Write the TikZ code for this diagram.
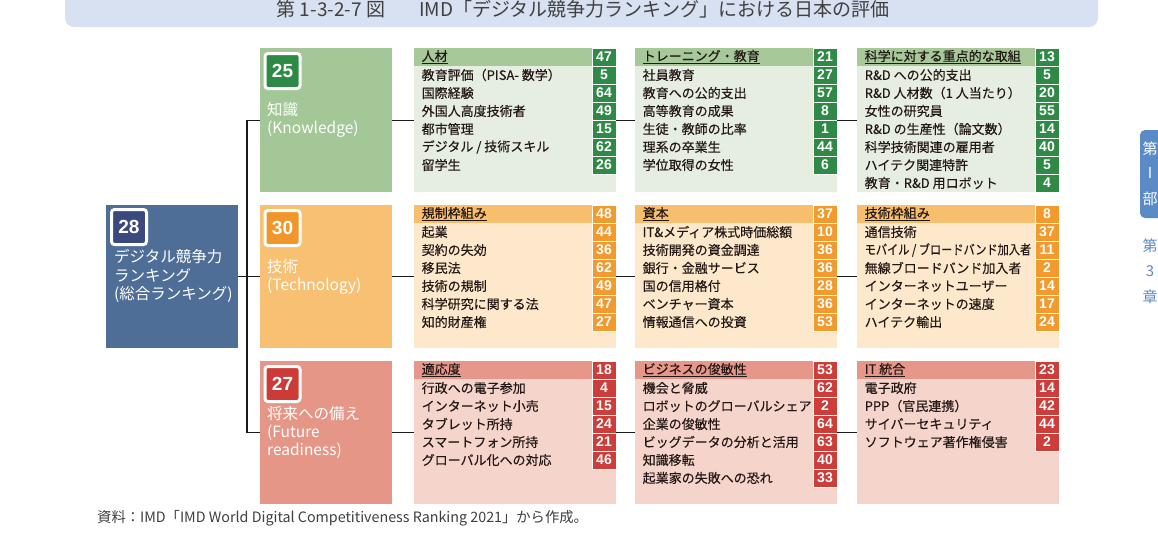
\documentclass[tikz,border=0pt]{standalone}
\usepackage{fontspec}
\usepackage{graphicx}
\setmainfont{Noto Sans CJK JP}
\newfontfamily\itemfont{Noto Sans CJK JP}[FakeBold=0.35]
\newfontfamily\numfont{Liberation Sans}
\definecolor{gcat}{HTML}{A3C796}
\definecolor{gbadge}{HTML}{2C8A45}
\definecolor{ghd}{HTML}{A7C99A}
\definecolor{gbg}{HTML}{E6EDE1}
\definecolor{gnum}{HTML}{2F8A48}
\definecolor{ocat}{HTML}{F8C072}
\definecolor{obadge}{HTML}{F0962A}
\definecolor{ohd}{HTML}{F7BE6E}
\definecolor{obg}{HTML}{FDE8CC}
\definecolor{onum}{HTML}{F29A2E}
\definecolor{rcat}{HTML}{E59686}
\definecolor{rbadge}{HTML}{CC3B38}
\definecolor{rhd}{HTML}{E6978A}
\definecolor{rbg}{HTML}{F5D4CB}
\definecolor{rnum}{HTML}{CD3D39}
\definecolor{mcat}{HTML}{4F6E97}
\definecolor{mbadge}{HTML}{3A4A7C}
\definecolor{titlebg}{HTML}{D8E1F1}
\definecolor{tabc}{HTML}{5B8BC6}
\definecolor{txtc}{HTML}{231815}
\definecolor{linec}{HTML}{1A1A1A}
\tikzset{
 itemtxt/.style={anchor=west, inner sep=0pt, text=txtc, font=\itemfont\fontsize{13}{13}\selectfont},
 numbox/.style={minimum width=24pt, minimum height=18pt, inner sep=0pt, draw=white, line width=1pt, text=white, font=\numfont\bfseries\fontsize{14}{14}\selectfont},
 panelbox/.style={anchor=north west, minimum width=202pt, minimum height=144pt, inner sep=0pt},
 catbox/.style={anchor=north west, minimum width=132pt, minimum height=144pt, inner sep=0pt},
 badge/.style={minimum size=35pt, inner sep=0pt, draw=white, line width=3pt, rounded corners=3pt, text=white, font=\numfont\bfseries\fontsize{19}{19}\selectfont},
 cattxt/.style={anchor=west, inner sep=0pt, text=white, font=\fontsize{15.5}{15.5}\selectfont},
 conn/.style={draw=linec, line width=1.2pt},
 tabtxt/.style={inner sep=0pt, font=\fontsize{15}{15}\selectfont},
}
\newcommand\setpanel[4]{\def\px{#1}\def\py{#2}\def\pnum{#3}\def\pid{#4}}
\newcommand\panelhead[1]{\fill[#1] (\px,\py) rectangle ({\px+178},{\py+18});}
\newcommand\prow[3]{%
 \node[itemtxt] (\pid t#1) at ({\px+7.5},{\py+9+18*#1}) {#2};
 \node[numbox, fill=\pnum] (\pid n#1) at ({\px+190},{\py+9+18*#1}) {#3};}
\begin{document}
\begin{tikzpicture}[x=1pt,y=-1pt]
\useasboundingbox (0,0) rectangle (1158,550);
\clip (0,0) rectangle (1158,550);
\fill[white] (0,0) rectangle (1158,550);
% title
\fill[titlebg, rounded corners=9pt] (65,-20) rectangle (1098,27);
\node[text=black!75, font=\fontsize{19}{19}\selectfont, inner sep=0pt] (title) at (583,9) {第 1-3-2-7 図\hspace{34pt}IMD「デジタル競争力ランキング」における日本の評価};
% right tab
\fill[tabc, rounded corners=5pt] (1140,130) rectangle (1175,218);
\node[tabtxt, text=white] (tab1) at (1150,149) {第};
\node[tabtxt, text=white] (tab2) at (1150,173) {I};
\node[tabtxt, text=white] (tab3) at (1150,199) {部};
\node[tabtxt, text=tabc] (tab4) at (1150,246) {第};
\node[tabtxt, text=tabc] (tab5) at (1150,271) {3};
\node[tabtxt, text=tabc] (tab6) at (1150,297) {章};
% main box
\node[catbox, minimum height=143pt, fill=mcat] (M) at (106,205) {};
\node[badge, fill=mbadge] (Mb) at (129,227) {28};
\node[cattxt] (Mt1) at (114,257) {デジタル競争力};
\node[cattxt] (Mt2) at (114,276) {ランキング};
\node[cattxt] (Mt3) at (114,294) {(総合ランキング)};
% category boxes
\node[catbox, fill=gcat] (K) at (260,48) {};
\node[badge, fill=gbadge] (Kb) at (282.5,71) {25};
\node[cattxt] (Kt1) at (267,110) {知識};
\node[cattxt] (Kt2) at (267,129) {(Knowledge)};
\node[catbox, minimum height=143pt, fill=ocat] (T) at (260,205) {};
\node[badge, fill=obadge] (Tb) at (282.5,228) {30};
\node[cattxt] (Tt1) at (267,267) {技術};
\node[cattxt] (Tt2) at (267,286) {(Technology)};
\node[catbox, minimum height=143pt, fill=rcat] (F) at (260,361) {};
\node[badge, fill=rbadge] (Fb) at (282.5,384) {27};
\node[cattxt] (Ft1) at (267,414) {将来への備え};
\node[cattxt] (Ft2) at (267,433) {(Future};
\node[cattxt] (Ft3) at (267,451) {readiness)};
% ---------- row 1 : knowledge
\node[panelbox, fill=gbg] (P11) at (414,48) {};
\node[panelbox, fill=gbg] (P12) at (635,48) {};
\node[panelbox, fill=gbg] (P13) at (857,48) {};
\setpanel{414}{48}{gnum}{A}\panelhead{ghd}
\prow{0}{\underline{人材}}{47}
\prow{1}{教育評価（PISA- 数学）}{5}
\prow{2}{国際経験}{64}
\prow{3}{外国人高度技術者}{49}
\prow{4}{都市管理}{15}
\prow{5}{デジタル / 技術スキル}{62}
\prow{6}{留学生}{26}
\setpanel{635}{48}{gnum}{B}\panelhead{ghd}
\prow{0}{\underline{トレーニング・教育}}{21}
\prow{1}{社員教育}{27}
\prow{2}{教育への公的支出}{57}
\prow{3}{高等教育の成果}{8}
\prow{4}{生徒・教師の比率}{1}
\prow{5}{理系の卒業生}{44}
\prow{6}{学位取得の女性}{6}
\setpanel{857}{48}{gnum}{C}\panelhead{ghd}
\prow{0}{\underline{科学に対する重点的な取組}}{13}
\prow{1}{R\&D への公的支出}{5}
\prow{2}{R\&D 人材数（1 人当たり）}{20}
\prow{3}{女性の研究員}{55}
\prow{4}{R\&D の生産性（論文数）}{14}
\prow{5}{科学技術関連の雇用者}{40}
\prow{6}{ハイテク関連特許}{5}
\prow{7}{教育・R\&D 用ロボット}{4}
% ---------- row 2 : technology
\node[panelbox, minimum height=143pt, fill=obg] (P21) at (414,205) {};
\node[panelbox, minimum height=143pt, fill=obg] (P22) at (635,205) {};
\node[panelbox, minimum height=143pt, fill=obg] (P23) at (857,205) {};
\setpanel{414}{205}{onum}{D}\panelhead{ohd}
\prow{0}{\underline{規制枠組み}}{48}
\prow{1}{起業}{44}
\prow{2}{契約の失効}{36}
\prow{3}{移民法}{62}
\prow{4}{技術の規制}{49}
\prow{5}{科学研究に関する法}{47}
\prow{6}{知的財産権}{27}
\setpanel{635}{205}{onum}{E}\panelhead{ohd}
\prow{0}{\underline{資本}}{37}
\prow{1}{IT\&メディア株式時価総額}{10}
\prow{2}{技術開発の資金調達}{36}
\prow{3}{銀行・金融サービス}{36}
\prow{4}{国の信用格付}{28}
\prow{5}{ベンチャー資本}{36}
\prow{6}{情報通信への投資}{53}
\setpanel{857}{205}{onum}{G}\panelhead{ohd}
\prow{0}{\underline{技術枠組み}}{8}
\prow{1}{通信技術}{37}
\prow{2}{\scalebox{0.86}[1]{モバイル / ブロードバンド加入者}}{11}
\prow{3}{無線ブロードバンド加入者}{2}
\prow{4}{インターネットユーザー}{14}
\prow{5}{インターネットの速度}{17}
\prow{6}{ハイテク輸出}{24}
% ---------- row 3 : future readiness
\node[panelbox, minimum height=143pt, fill=rbg] (P31) at (414,361) {};
\node[panelbox, minimum height=143pt, fill=rbg] (P32) at (635,361) {};
\node[panelbox, minimum height=143pt, fill=rbg] (P33) at (857,361) {};
\setpanel{414}{361}{rnum}{H}\panelhead{rhd}
\prow{0}{\underline{適応度}}{18}
\prow{1}{行政への電子参加}{4}
\prow{2}{インターネット小売}{15}
\prow{3}{タブレット所持}{24}
\prow{4}{スマートフォン所持}{21}
\prow{5}{グローバル化への対応}{46}
\setpanel{635}{361}{rnum}{J}\panelhead{rhd}
\prow{0}{\underline{ビジネスの俊敏性}}{53}
\prow{1}{機会と脅威}{62}
\prow{2}{ロボットのグローバルシェア}{2}
\prow{3}{企業の俊敏性}{64}
\prow{4}{ビッグデータの分析と活用}{63}
\prow{5}{知識移転}{40}
\prow{6}{起業家の失敗への恐れ}{33}
\setpanel{857}{361}{rnum}{L}\panelhead{rhd}
\prow{0}{\underline{IT 統合}}{23}
\prow{1}{電子政府}{14}
\prow{2}{PPP（官民連携）}{42}
\prow{3}{サイバーセキュリティ}{44}
\prow{4}{ソフトウェア著作権侵害}{2}
% ---------- connectors
\draw[conn] (M.east) -- (T.west);
\draw[conn] (K.west) -- ++(-13,0) |- (F.west);
\foreach \r/\c in {1/K,2/T,3/F}{
  \draw[conn] (\c.east) -- (P\r1.west);
  \draw[conn] (P\r1.east) -- (P\r2.west);
  \draw[conn] (P\r2.east) -- (P\r3.west);
}
% source
\node[anchor=west, inner sep=0pt, text=black!75, font=\fontsize{14.3}{14.3}\selectfont] (src) at (97,518) {資料：IMD「IMD World Digital Competitiveness Ranking 2021」から作成。};
\end{tikzpicture}
\end{document}
